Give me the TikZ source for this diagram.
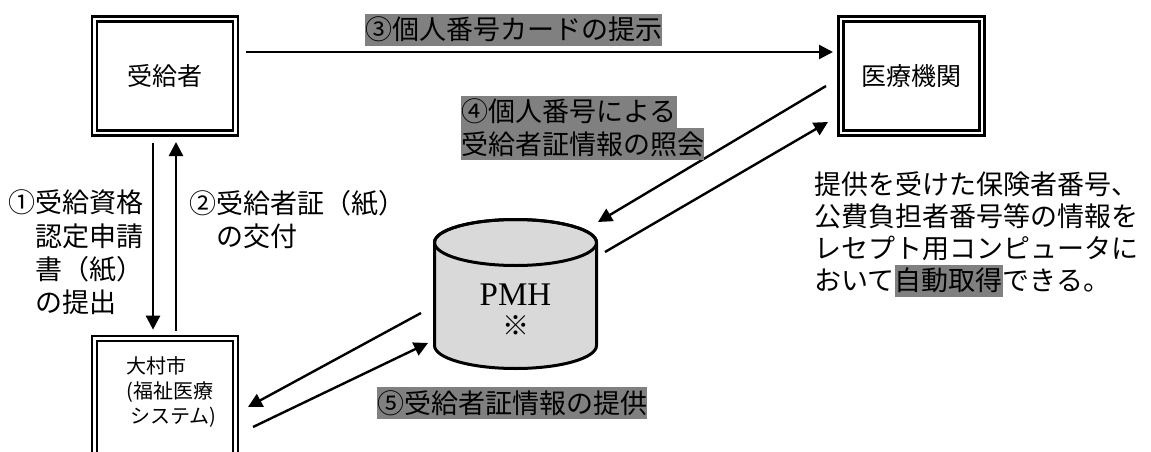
\documentclass[tikz,border=0pt]{standalone}
\usepackage{fontspec}
\setmainfont{Noto Sans CJK JP}
\newfontfamily\pmhfont{Liberation Serif}
\usepackage{xcolor}
\usepackage{tikz}
\usetikzlibrary{arrows.meta,calc}
\definecolor{hlgray}{RGB}{128,128,128}
\definecolor{dbgray}{RGB}{217,217,217}
\newcommand{\cnum}[1]{\makebox[1em]{#1}}

\begin{document}
\begin{tikzpicture}[x=0.5pt, y=0.5pt,
    box/.style={draw, double, line width=1.2pt, double distance=1.3pt, minimum width=70.5pt, minimum height=57pt, inner sep=0pt, outer sep=0pt, font=\fontsize{12.5}{15}\selectfont},
    arr/.style={-{Triangle[length=7pt,width=7pt]}, line width=1.2pt},
    hl/.style={fill=hlgray, inner sep=0pt, text height=13pt, text depth=3pt, anchor=base west, font=\fontsize{13.5}{16}\selectfont},
    note/.style={align=left, inner sep=0pt, anchor=north west}]
    \useasboundingbox (0,0) rectangle (1151,451);
    \clip (0,0) rectangle (1151,451);
    \node[box] (juk) at (165,375) {受給者};
    \node[box] (kyo) at (911.5,375) {医療機関};
    \node[box, minimum height=70pt] (omura) at (165,42.3) {};
    \node[note, anchor=west, font=\fontsize{10}{12.5}\selectfont] (omuralbl) at (126,59) {大村市\\(福祉医療\\\hspace{2pt}システム)};
    \draw[line width=1.5pt, fill=dbgray] (434.5,208.5) -- (434.5,105.5) arc[start angle=180, end angle=360, x radius=81, y radius=23] -- (596.5,208.5) arc[start angle=0, end angle=180, x radius=81, y radius=23] -- cycle;
    \draw[line width=1.5pt] (515.5,208.5) ellipse[x radius=81, y radius=23];
    \node[align=center, inner sep=0pt, font=\fontsize{13.5}{15}\selectfont] (pmh) at (515.5,141) {{\pmhfont\fontsize{16.5}{15}\selectfont PMH}\\※};
    \draw[arr] ($(juk.south)+(-12,-10)$) -- ($(omura.north)+(-12,9)$);
    \draw[arr] ($(omura.north)+(11,8)$) -- ($(juk.south)+(11,-9)$);
    \draw[arr] ($(juk.east)+(10.5,24)$) -- ($(kyo.west)+(-8,24)$);
    \draw[arr] ($(kyo.west)+(-15,-10)$) -- ($(pmh)+(82.5,88)$);
    \draw[arr] ($(pmh)+(89.5,58)$) -- ($(kyo.west)+(-13,-46)$);
    \draw[arr] ($(pmh)+(-94.5,-3)$) -- ($(omura.east)+(12.5,1.7)$);
    \draw[arr] ($(omura.east)+(17.5,-18.3)$) -- ($(pmh)+(-87.5,-33)$);
    \node[hl] (q3) at (365,411) {\cnum{③}個人番号カードの提示};
    \node[hl] (q4a) at (461,329) {\cnum{④}個人番号による};
    \node[hl] (q4b) at (461,297) {受給者証情報の照会};
    \node[hl] (q5) at (377,38) {\cnum{⑤}受給者証情報の提供};
    \node[note, font=\fontsize{13.5}{16.67}\selectfont] (q1) at (8,261.5) {\cnum{①}受給資格\\　認定申請\\　書（紙）\\　の提出};
    \node[note, font=\fontsize{13.5}{16.67}\selectfont] (q2) at (189,261.5) {\cnum{②}受給者証（紙）\\　の交付};
    \node[note, font=\fontsize{13.5}{16}\selectfont] (memo) at (814,279.5) {提供を受けた保険者番号、\\公費負担者番号等の情報を\\レセプト用コンピュータに\\おいて{\fboxsep=0pt\colorbox{hlgray}{\rule[-3pt]{0pt}{16pt}自動取得}}できる。};
\end{tikzpicture}
\end{document}
